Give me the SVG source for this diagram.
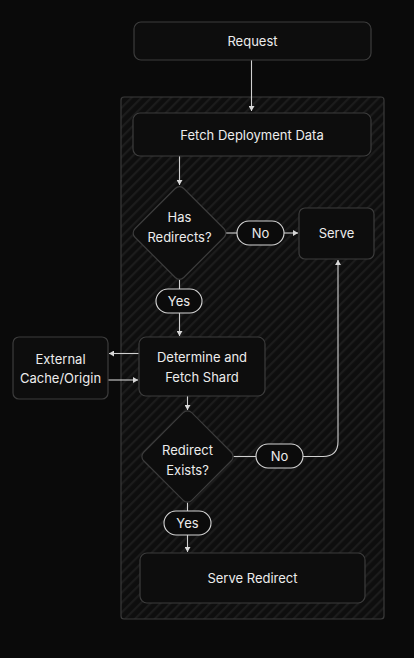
<svg xmlns="http://www.w3.org/2000/svg" width="414" height="658" viewBox="0 0 414 658">
<style>
.node{fill:#0d0d0d;stroke:#3c3c3c;stroke-width:1.2}
.pill{fill:#0b0b0b;stroke:#d4d4d4;stroke-width:1.1}
.t{font-family:Inter,"Liberation Sans",sans-serif;font-size:13px;fill:#ececec;text-anchor:middle}
.c{fill:none;stroke:#d0d0d0;stroke-width:1.1}
</style>
<defs>
<pattern id="hatch" patternUnits="userSpaceOnUse" width="7" height="7" patternTransform="rotate(45)">
<rect width="7" height="7" fill="#0e0e0e"/>
<rect x="0" y="0" width="2.2" height="7" fill="#1c1c1c"/>
</pattern>
<marker id="arr" markerUnits="userSpaceOnUse" markerWidth="6" markerHeight="6" refX="5" refY="3" orient="auto">
<path d="M0,0 L5,3 L0,6 z" fill="#d8d8d8"/>
</marker>
</defs>
<rect width="414" height="658" fill="#0a0a0a"/>
<rect id="container" x="121" y="97" width="263" height="522" rx="3" fill="url(#hatch)" stroke="#3a3a3a" stroke-width="1.2"/>

<g id="connectors">
<path class="c" d="M251.5 60 V111" marker-end="url(#arr)"/>
<path class="c" d="M179.5 156 V185" marker-end="url(#arr)"/>
<path class="c" d="M226 233 H237"/>
<path class="c" d="M284 233 H298" marker-end="url(#arr)"/>
<path class="c" d="M179.5 279.5 V289"/>
<path class="c" d="M179.5 313 V336" marker-end="url(#arr)"/>
<path class="c" d="M139 353.5 H109" marker-end="url(#arr)"/>
<path class="c" d="M108 380 H138" marker-end="url(#arr)"/>
<path class="c" d="M187.5 396 V410" marker-end="url(#arr)"/>
<path class="c" d="M233.5 456.5 H256"/>
<path class="c" d="M303 456.5 H323 Q338 456.5 338 441.5 V260" marker-end="url(#arr)"/>
<path class="c" d="M187.5 502.5 V511"/>
<path class="c" d="M187.5 535 V552" marker-end="url(#arr)"/>
</g>

<g id="request">
<rect class="node" x="134" y="22" width="237" height="38" rx="7"/>
<text class="t" x="252.5" y="46">Request</text>
</g>
<g id="fetch-deployment">
<rect class="node" x="133" y="113" width="238" height="43" rx="7"/>
<text class="t" x="252" y="139.5">Fetch Deployment Data</text>
</g>
<g id="has-redirects">
<rect class="node" x="-34.5" y="-34.5" width="69" height="69" rx="6" transform="translate(179.5 233) rotate(45)"/>
<text class="t" x="179.5" y="222">Has</text>
<text class="t" x="179.5" y="242">Redirects?</text>
</g>
<g id="no-1">
<rect class="pill" x="237" y="221" width="47" height="24" rx="12"/>
<text class="t" x="260.5" y="237.5">No</text>
</g>
<g id="serve">
<rect class="node" x="299" y="208" width="75" height="51" rx="6"/>
<text class="t" x="336.5" y="238">Serve</text>
</g>
<g id="yes-1">
<rect class="pill" x="156" y="289" width="46" height="24" rx="12"/>
<text class="t" x="179" y="305.5">Yes</text>
</g>
<g id="determine">
<rect class="node" x="139" y="337" width="126" height="59" rx="7"/>
<text class="t" x="202" y="362">Determine and</text>
<text class="t" x="202" y="382">Fetch Shard</text>
</g>
<g id="external">
<rect class="node" x="13" y="337" width="95" height="62" rx="6"/>
<text class="t" x="60.5" y="363.5">External</text>
<text class="t" x="60.5" y="383">Cache/Origin</text>
</g>
<g id="redirect-exists">
<rect class="node" x="-34" y="-34" width="68" height="68" rx="6" transform="translate(187.5 456.5) rotate(45)"/>
<text class="t" x="187.5" y="454.5">Redirect</text>
<text class="t" x="187.5" y="474.5">Exists?</text>
</g>
<g id="no-2">
<rect class="pill" x="256" y="444" width="47" height="24" rx="12"/>
<text class="t" x="279.5" y="460.5">No</text>
</g>
<g id="yes-2">
<rect class="pill" x="164" y="511" width="47" height="24" rx="12"/>
<text class="t" x="187.5" y="527.5">Yes</text>
</g>
<g id="serve-redirect">
<rect class="node" x="140" y="553" width="225" height="50" rx="7"/>
<text class="t" x="252.5" y="583">Serve Redirect</text>
</g>
</svg>
